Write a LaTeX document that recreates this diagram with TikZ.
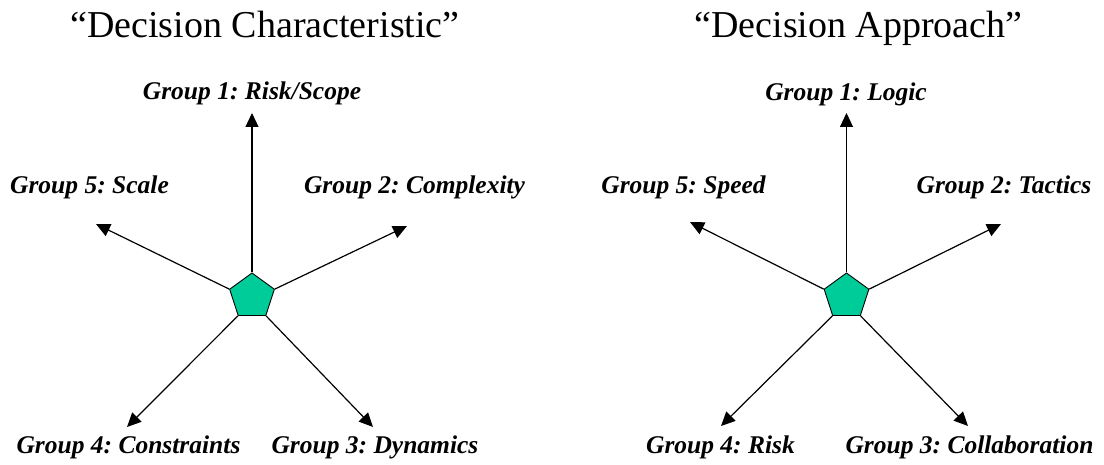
\documentclass[tikz,border=0pt]{standalone}
\usepackage{fontspec}
\setmainfont{Liberation Serif}
\usetikzlibrary{shapes.geometric,arrows.meta}
\definecolor{hubgreen}{RGB}{0,204,153}
\frenchspacing
\begin{document}
\begin{tikzpicture}[x=1pt,y=-1pt,
  hub/.style={regular polygon,regular polygon sides=5,minimum size=47pt,
    inner sep=0pt,fill=hubgreen,draw=black,line width=0.9pt},
  spoke/.style={line width=1.2pt,-{Triangle[length=14pt,width=13pt]}},
  heading/.style={anchor=base,inner sep=0pt,font=\fontsize{38}{40}\selectfont},
  grouplabel/.style={anchor=base,inner sep=0pt,
    font=\fontsize{25.5}{28}\selectfont\bfseries\itshape}]
\useasboundingbox (0,0) rectangle (1104,465);

% left diagram
\node[heading] (t1) at (265,37.5) {``Decision Characteristic''};
\node[hub] (h1) at (252,296.5) {};
\coordinate (l1) at (252,113);
\coordinate (l2) at (407,226);
\coordinate (l3) at (373,427);
\coordinate (l4) at (127,427);
\coordinate (l5) at (96,224);
\draw[spoke] (h1.corner 1) -- (l1);
\draw[spoke] (h1.corner 5) -- (l2);
\draw[spoke] (h1.corner 4) -- (l3);
\draw[spoke] (h1.corner 3) -- (l4);
\draw[spoke] (h1.corner 2) -- (l5);
\node[grouplabel] (g11) at (252,100) {Group 1: Risk/Scope};
\node[grouplabel] (g12) at (414.5,194) {Group 2: Complexity};
\node[grouplabel] (g13) at (375,453) {Group 3: Dynamics};
\node[grouplabel] (g14) at (128.5,453) {Group 4: Constraints};
\node[grouplabel] (g15) at (89.5,194) {Group 5: Scale};

% right diagram
\node[heading] (t2) at (858.5,37.8) {``Decision Approach''};
\node[hub] (h2) at (846.5,296.5) {};
\coordinate (r1) at (846.5,113);
\coordinate (r2) at (1001,224);
\coordinate (r3) at (968,426);
\coordinate (r4) at (721,426);
\coordinate (r5) at (690,222);
\draw[spoke] (h2.corner 1) -- (r1);
\draw[spoke] (h2.corner 5) -- (r2);
\draw[spoke] (h2.corner 4) -- (r3);
\draw[spoke] (h2.corner 3) -- (r4);
\draw[spoke] (h2.corner 2) -- (r5);
\node[grouplabel] (g21) at (846,101) {Group 1: Logic};
\node[grouplabel] (g22) at (1004,194) {Group 2: Tactics};
\node[grouplabel] (g23) at (969.5,453) {Group 3: Collaboration};
\node[grouplabel] (g24) at (720.5,453) {Group 4: Risk};
\node[grouplabel] (g25) at (683.5,194) {Group 5: Speed};
\end{tikzpicture}
\end{document}
